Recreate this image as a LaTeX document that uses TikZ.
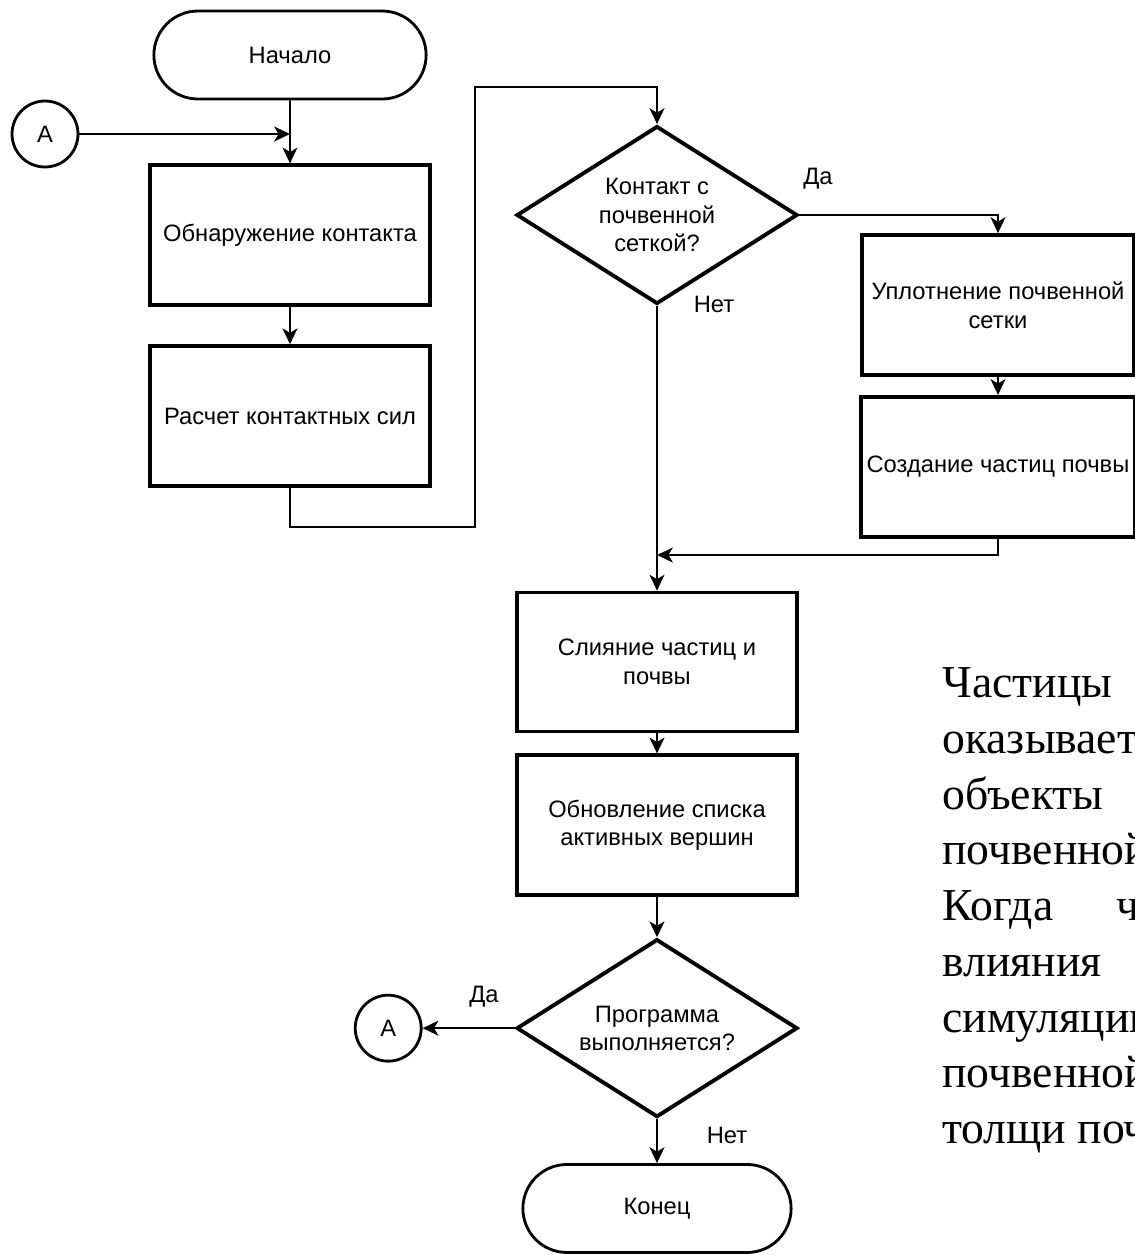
\documentclass[tikz,border=0pt]{standalone}
\usepackage{fontspec}
\setmainfont{Liberation Serif}
\newfontfamily\diafont{Liberation Sans}
\usepackage{tikz}
\usetikzlibrary{positioning,arrows.meta,shapes.geometric,shapes.misc,calc}
\tikzset{
  terminal/.style={rounded rectangle, draw, line width=1.6pt, minimum width=5.68cm, minimum height=1.76cm, align=center, font=\diafont\fontsize{13.5}{16.4}\selectfont},
  procbox/.style={rectangle, draw, line width=2.2pt, minimum width=5.6cm, minimum height=2.8cm, align=center, font=\diafont\fontsize{13.5}{16.4}\selectfont},
  decision/.style={diamond, draw, line width=2.2pt, aspect=1.58, inner sep=0pt, minimum width=5.62cm, minimum height=3.56cm, align=center, font=\diafont\fontsize{13.5}{16}\selectfont},
  joint/.style={circle, draw, line width=1.6pt, minimum size=1.32cm, font=\diafont\fontsize{13.5}{16}\selectfont},
  lbl/.style={font=\diafont\fontsize{13.5}{16}\selectfont, inner sep=1pt},
  para/.style={anchor=base west, inner sep=0pt, font=\fontsize{26}{31}\selectfont},
  arrow/.style={->, >={Stealth[length=9pt, width=8.5pt, inset=2.5pt]}, line width=1.1pt}
}
\begin{document}
\begin{tikzpicture}[x=0.02cm, y=-0.02cm]
\useasboundingbox (0,0) rectangle (1135,1255);
% left column
\node[terminal] (start) at (290,55) {Начало};
\node[procbox, below=1.26cm of start] (detect) {Обнаружение контакта};
\node[procbox, below=0.74cm of detect] (forces) {Расчет контактных сил};
\node[joint] (ina) at (45,134) {A};
% middle column
\node[decision] (soilhit) at (657,215) {Контакт с\\почвенной\\сеткой?};
\node[procbox, minimum height=2.78cm] (merge) at (657,662) {Слияние частиц и\\почвы};
\node[procbox, below=0.4cm of merge] (update) {Обновление списка\\активных вершин};
\node[decision, below=0.8cm of update] (running) {Программа\\выполняется?};
\node[terminal, minimum width=5.6cm, below=0.88cm of running] (stop) {Конец};
\node[joint, left=1.84cm of running] (outa) {A};
% right column
\node[procbox, minimum width=5.44cm] (compact) at (998,305) {Уплотнение почвенной\\сетки};
\node[procbox, minimum width=5.44cm, below=0.36cm of compact] (spawn) {Создание частиц почвы};
% turning points
\coordinate (loopdown) at (475,527);
\coordinate (loopup) at (475,87);
\coordinate (join) at (657,555);
% connectors
\draw[arrow] (start) -- (detect);
\draw[arrow] (ina) -- (ina -| start);
\draw[arrow] (detect) -- (forces);
\draw[arrow] (forces.south) |- (loopdown) -- (loopup) -| (soilhit.north);
\draw[arrow] (soilhit.east) -| (compact.north);
\draw[arrow] (compact) -- (spawn);
\draw[arrow] (spawn.south) |- (join);
\draw[arrow] (soilhit.south) -- (merge.north);
\draw[arrow] (merge) -- (update);
\draw[arrow] (update) -- (running);
\draw[arrow] (running.west) -- (outa);
\draw[arrow] (running) -- (stop);
% branch labels
\node[lbl] (yes1) at (818,179) {Да};
\node[lbl] (no1) at (714,304) {Нет};
\node[lbl] (yes2) at (484,997) {Да};
\node[lbl] (no2) at (727,1135) {Нет};
% text beside the chart
\node[para] (p1) at (942,697) {Частицы};
\node[para] (p2) at (942,753) {оказывает};
\node[para] (p3) at (942,809) {объекты};
\node[para] (p4) at (942,864) {почвенной};
\node[para] (p5) at (942,920) {Когда\hspace{36pt}ча};
\node[para] (p6) at (942,976) {влияния};
\node[para] (p7) at (942,1032) {симуляции};
\node[para] (p8) at (942,1087) {почвенной};
\node[para] (p9) at (942,1143) {толщи поч};
\end{tikzpicture}
\end{document}
